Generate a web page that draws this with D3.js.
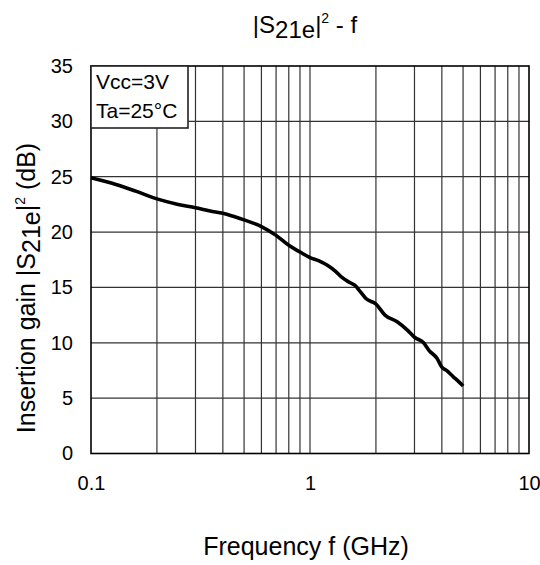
<!DOCTYPE html>
<html>
<head>
<meta charset="utf-8">
<script src="https://cdn.jsdelivr.net/npm/d3@7"></script>
<style>
  body { margin: 0; background: #fff; }
  text { font-family: "Liberation Sans", Arial, sans-serif; fill: #000; }
</style>
</head>
<body>
<svg id="chart" width="540" height="565"></svg>
<script>
// data
const freqGHz = [0.1, 0.13, 0.16, 0.2, 0.25, 0.3, 0.35, 0.4, 0.45, 0.5, 0.6, 0.7, 0.8, 0.9, 1.0,
  1.1, 1.2, 1.3, 1.4, 1.5, 1.6, 1.7, 1.8, 2.0, 2.2, 2.5, 2.8, 3.0, 3.3, 3.5, 3.8, 4.0, 4.2, 4.5, 4.8, 5.0];
const gainDb = [24.9, 24.3, 23.7, 23.0, 22.5, 22.2, 21.9, 21.7, 21.4, 21.1, 20.5, 19.7, 18.8, 18.2, 17.7,
  17.4, 17.0, 16.5, 15.9, 15.5, 15.2, 14.6, 14.0, 13.5, 12.5, 11.9, 11.1, 10.5, 10.0, 9.3, 8.6, 7.8, 7.5, 6.95, 6.45, 6.1];
const yTicks = [0, 5, 10, 15, 20, 25, 30, 35];
const xTicks = [0.1, 1, 10];
const legendLines = ['Vcc=3V', 'Ta=25°C'];

const margin = { top: 66, right: 11, bottom: 111.5, left: 91 };
const width = 540 - margin.left - margin.right;
const height = 565 - margin.top - margin.bottom;

const svg = d3.select('#chart');
const g = svg.append('g').attr('transform', `translate(${margin.left},${margin.top})`);

const x = d3.scaleLog().domain([0.1, 10]).range([0, width]);
const y = d3.scaleLinear().domain([0, 35]).range([height, 0]);

// vertical grid (1..10 per decade)
const minor = [];
[0.1, 1].forEach((d) => {
  for (let i = 2; i <= 9; i++) minor.push(d * i);
});
minor.push(1);
g.selectAll('.vgrid')
  .data(minor)
  .enter()
  .append('line')
  .attr('x1', (d) => x(d))
  .attr('x2', (d) => x(d))
  .attr('y1', 0)
  .attr('y2', height)
  .attr('stroke', '#333')
  .attr('stroke-width', 1.2);

// horizontal grid
g.selectAll('.hgrid')
  .data(yTicks.slice(1, -1))
  .enter()
  .append('line')
  .attr('x1', 0)
  .attr('x2', width)
  .attr('y1', (d) => y(d))
  .attr('y2', (d) => y(d))
  .attr('stroke', '#333')
  .attr('stroke-width', 1.2);

// axes (labels only)
const yAxis = g.append('g').call(d3.axisLeft(y).tickValues(yTicks).tickSize(0).tickPadding(18));
yAxis.select('.domain').remove();
yAxis.selectAll('text').style('font-size', '20px').style('font-family', '"Liberation Sans", Arial, sans-serif');

const xAxis = g.append('g')
  .attr('transform', `translate(0,${height})`)
  .call(d3.axisBottom(x).tickValues(xTicks).tickFormat(d3.format('')).tickSize(0).tickPadding(22));
xAxis.select('.domain').remove();
xAxis.selectAll('text').style('font-size', '20px').style('font-family', '"Liberation Sans", Arial, sans-serif');

// frame
g.append('rect')
  .attr('width', width)
  .attr('height', height)
  .attr('fill', 'none')
  .attr('stroke', '#000')
  .attr('stroke-width', 1.6);

// curve
const line = d3.line()
  .x((d, i) => x(freqGHz[i]))
  .y((d) => y(d))
  .curve(d3.curveMonotoneX);
g.append('path')
  .datum(gainDb)
  .attr('d', line)
  .attr('fill', 'none')
  .attr('stroke', '#000')
  .attr('stroke-width', 3.6)
  .attr('stroke-linejoin', 'round');

// legend box
g.append('rect')
  .attr('x', 0)
  .attr('y', 0)
  .attr('width', 97)
  .attr('height', 62)
  .attr('fill', '#fff')
  .attr('stroke', '#222')
  .attr('stroke-width', 1.6);
g.selectAll('.leg')
  .data(legendLines)
  .enter()
  .append('text')
  .attr('x', 5)
  .attr('y', (d, i) => 23 + i * 29)
  .style('font-size', '21px')
  .text((d) => d);

// title
const title = svg.append('text')
  .attr('x', 305)
  .attr('y', 33)
  .attr('text-anchor', 'middle')
  .style('font-size', '24px');
title.append('tspan').text('|S');
title.append('tspan').attr('dy', 5).text('21e');
title.append('tspan').attr('dy', -5).text('|');
title.append('tspan').attr('dy', -10).style('font-size', '14px').text('2');
title.append('tspan').attr('dy', 10).text(' - f');

// x title
svg.append('text')
  .attr('x', 306)
  .attr('y', 555)
  .attr('text-anchor', 'middle')
  .style('font-size', '25px')
  .text('Frequency f (GHz)');

// y title
const yt = svg.append('text')
  .attr('transform', 'translate(35,288) rotate(-90)')
  .attr('text-anchor', 'middle')
  .style('font-size', '25px');
yt.append('tspan').text('Insertion gain |S');
yt.append('tspan').attr('dy', 5).text('21e');
yt.append('tspan').attr('dy', -5).text('|');
yt.append('tspan').attr('dy', -10).style('font-size', '14px').text('2');
yt.append('tspan').attr('dy', 10).text(' (dB)');
</script>
</body>
</html>
